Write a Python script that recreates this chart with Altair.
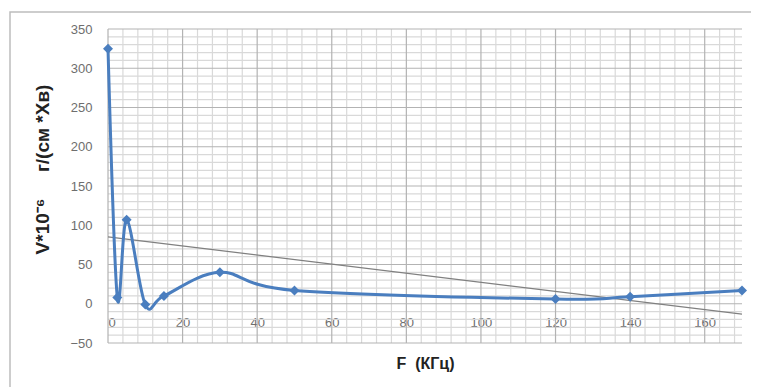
import altair as alt
import pandas as pd

freq = [0, 2.5, 5, 10, 15, 30, 50, 120, 140, 170]
value = [325, 8, 107, -1, 10, 40, 17, 6, 9, 17]

x_major = list(range(0, 161, 20))
x_minor = [v for v in range(0, 169, 4) if v % 20 != 0]
y_major = list(range(-50, 351, 50))
y_minor = [v for v in range(-50, 351, 10) if v % 50 != 0]

df = pd.DataFrame({"F": freq, "V": value})

W, H = 634, 314

x_scale = alt.Scale(domain=[0, 170], nice=False, zero=False)
y_scale = alt.Scale(domain=[-50, 350], nice=False, zero=False)

MINOR = "#d9d9d9"
MAJOR = "#b3b3b3"

x_axis = alt.Axis(
    values=x_major,
    grid=False,
    domain=False,
    ticks=False,
    offset=-39,
    labelPadding=12,
    labelFontSize=13,
    labelColor="#6e6e6e",
    labelFont="Liberation Sans",
    labelOverlap=False,
    title="F\u00a0\u00a0(КГц)",
    titleFont="Liberation Sans",
    titleFontSize=16,
    titleFontWeight="bold",
    titleColor="#222222",
    titleY=59,
    titleBaseline="middle",
)

y_axis = alt.Axis(
    values=y_major,
    grid=False,
    domain=False,
    ticks=False,
    labelPadding=16,
    labelFontSize=13,
    labelColor="#6e6e6e",
    labelFont="Liberation Sans",
    labelOverlap=False,
    title="V*10⁻⁶\u00a0\u00a0\u00a0\u00a0\u00a0г/(см\u00a0*Хв)",
    titleFont="Liberation Sans",
    titleFontSize=19,
    titleFontWeight="bold",
    titleColor="#222222",
    titleX=-66,
    titleY=140,
    titleBaseline="middle",
)

X = lambda f: alt.X(f, scale=x_scale, axis=x_axis)
Y = lambda f: alt.Y(f, scale=y_scale, axis=y_axis)


def vgrid(vals, color):
    return alt.Chart(pd.DataFrame({"F": vals})).mark_rule(
        color=color, strokeWidth=1.2
    ).encode(x=X("F:Q"))


def hgrid(vals, color):
    return alt.Chart(pd.DataFrame({"V": vals})).mark_rule(
        color=color, strokeWidth=1.2
    ).encode(y=Y("V:Q"))


base = alt.Chart(df)

line = base.mark_line(
    interpolate="cardinal", color="#4a7ebf", strokeWidth=3
).encode(x=X("F:Q"), y=Y("V:Q"))

points = base.mark_point(
    shape="diamond", filled=True, color="#4a7ebf", size=100, opacity=1
).encode(x=X("F:Q"), y=Y("V:Q"))

trend = base.transform_regression("F", "V").mark_line(
    color="#808080", strokeWidth=1.2
).encode(x=X("F:Q"), y=Y("V:Q"))

frame = alt.Chart(pd.DataFrame({"a": [0]})).mark_rect(
    fill=None, stroke="#bdbdbd", strokeWidth=1.5, clip=False
).encode(
    x=alt.value(-98), x2=alt.value(W + 200), y=alt.value(-17), y2=alt.value(H + 200)
)

chart = alt.layer(
    frame,
    vgrid(x_minor, MINOR), hgrid(y_minor, MINOR),
    vgrid(x_major, MAJOR), hgrid(y_major, MAJOR),
    trend, line, points,
).properties(
    width=W, height=H,
    autosize=alt.AutoSizeParams(type="none"),
    padding={"left": 100, "top": 21, "right": 9, "bottom": 44},
    background="white",
).configure_view(stroke=None)

chart.save("out.html", embed_options={"renderer": "svg", "actions": False})
